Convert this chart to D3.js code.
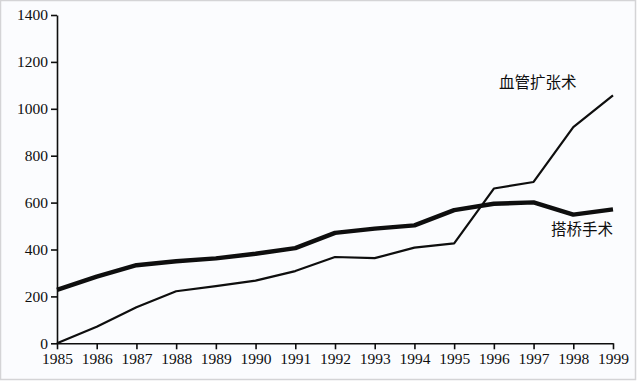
<!DOCTYPE html>
<html><head><meta charset="utf-8">
<script src="https://cdn.jsdelivr.net/npm/d3@7"></script>
<style>
html,body{margin:0;padding:0;background:#fff;}
svg{display:block;}
</style></head>
<body>
<svg id="chart" width="640" height="381"></svg>
<script>
const years = [1985,1986,1987,1988,1989,1990,1991,1992,1993,1994,1995,1996,1997,1998,1999];
const bypassValues = [228,284,333,350,362,382,406,471,489,503,568,595,601,549,571];
const angioplastyValues = [0,71,154,222,244,267,308,368,363,408,426,660,688,922,1057];
const yTicks = [0,200,400,600,800,1000,1200,1400];
const seriesLabels = ["血管扩张术","搭桥手术"];

const svg = d3.select("#chart");
svg.append("rect").attr("x",0.5).attr("y",0.5).attr("width",635).attr("height",379)
  .attr("fill","#fbfcfe").attr("stroke","#d4d4d6").attr("stroke-width",1.5);

const x = d3.scaleLinear().domain([1985,1999]).range([57,613]);
const y = d3.scaleLinear().domain([0,1400]).range([343.3,15]);
const ink = "#0e0e0e";
const serif = "'Liberation Serif','Times New Roman',serif";

const yAxis = svg.append("g").attr("transform","translate(57,0)")
  .call(d3.axisLeft(y).tickValues(yTicks).tickFormat(d3.format("d")).tickSize(6).tickSizeOuter(0).tickPadding(3));
const xAxis = svg.append("g").attr("transform","translate(0,343.3)")
  .call(d3.axisBottom(x).tickValues(years).tickFormat(d3.format("d")).tickSize(6).tickSizeOuter(0).tickPadding(4));
[yAxis,xAxis].forEach(g=>{
  g.select(".domain").attr("stroke",ink).attr("stroke-width",1.6);
  g.selectAll(".tick line").attr("stroke",ink).attr("stroke-width",1.6);
  g.selectAll(".tick text").attr("fill",ink).attr("font-family",serif).attr("font-size",15.5);
});

const line = d3.line().x((d,i)=>x(years[i])).y(d=>y(d));
svg.append("path").datum(angioplastyValues).attr("d",line)
  .attr("fill","none").attr("stroke",ink).attr("stroke-width",2.2).attr("stroke-linejoin","round");
svg.append("path").datum(bypassValues).attr("d",line)
  .attr("fill","none").attr("stroke",ink).attr("stroke-width",4.4).attr("stroke-linejoin","round");

const cjk = "'Noto Sans CJK SC','Noto Sans CJK TC',sans-serif";
svg.append("text").attr("x",499).attr("y",88).text(seriesLabels[0])
  .attr("font-family",cjk).attr("font-size",15.5).attr("fill",ink);
svg.append("text").attr("x",613).attr("y",235).attr("text-anchor","end").text(seriesLabels[1])
  .attr("font-family",cjk).attr("font-size",15.5).attr("fill",ink);
</script>
</body></html>
